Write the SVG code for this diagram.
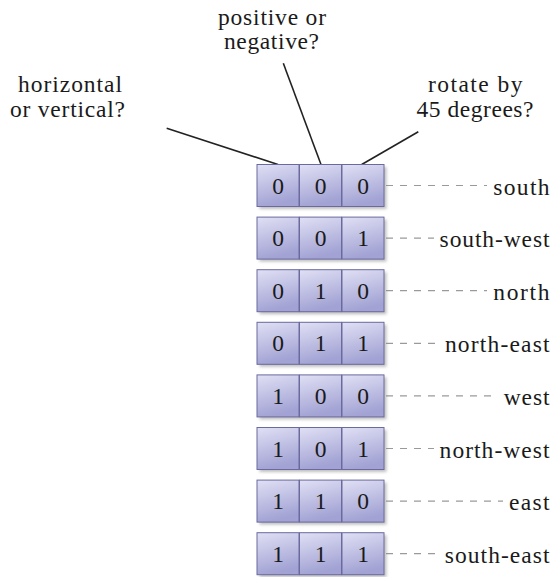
<svg xmlns="http://www.w3.org/2000/svg" width="551" height="577" viewBox="0 0 551 577" font-family="'Liberation Serif', 'DejaVu Serif', serif">
<defs>
<linearGradient id="cellfill" x1="0" y1="0" x2="0.25" y2="1">
<stop offset="0" stop-color="#e0e0f5"/>
<stop offset="1" stop-color="#a2a2d4"/>
</linearGradient>
<filter id="blur" x="-20%" y="-20%" width="140%" height="140%">
<feGaussianBlur stdDeviation="1.5"/>
</filter>
<g id="row">
<rect class="shadow" x="2.5" y="2.5" width="127" height="42" filter="url(#blur)"/>
<rect class="cell" x="0" y="0" width="42" height="42"/>
<rect class="cell" x="42.5" y="0" width="42" height="42"/>
<rect class="cell" x="85" y="0" width="42" height="42"/>
</g>
</defs>
<style>
.cell { fill: url(#cellfill); stroke: #6a6a9e; stroke-width: 1; }
.shadow { fill: #8a8a8a; opacity: 0.55; }
text { font-family: 'Liberation Serif', 'DejaVu Serif', serif; font-size: 23.5px; fill: #1a1a1a; }
.digit { text-anchor: middle; }
.lead { stroke: #222; stroke-width: 1.6; fill: none; }
.dash { stroke: #9a9a9a; stroke-width: 1.2; stroke-dasharray: 7 7; fill: none; }
</style>
<rect width="551" height="577" fill="#ffffff"/>

<g id="connectors">
<line class="lead" x1="166.7" y1="128.3" x2="278" y2="164.5"/>
<line class="lead" x1="283.3" y1="63.3" x2="321" y2="164.5"/>
<line class="lead" x1="418.3" y1="131.7" x2="361.7" y2="164.5"/>
<line class="dash" x1="386" y1="185.5" x2="487" y2="185.5"/>
<line class="dash" x1="386" y1="238.1" x2="434" y2="238.1"/>
<line class="dash" x1="386" y1="290.7" x2="487" y2="290.7"/>
<line class="dash" x1="386" y1="343.3" x2="439" y2="343.3"/>
<line class="dash" x1="386" y1="395.9" x2="498" y2="395.9"/>
<line class="dash" x1="386" y1="448.5" x2="434" y2="448.5"/>
<line class="dash" x1="386" y1="501.1" x2="503" y2="501.1"/>
<line class="dash" x1="386" y1="553.7" x2="439" y2="553.7"/>
</g>

<g id="q-horizontal">
<text x="18" y="92" textLength="104" lengthAdjust="spacing">horizontal</text>
<text x="10" y="117" textLength="115" lengthAdjust="spacing">or vertical?</text>
</g>
<g id="q-positive">
<text x="218" y="25" textLength="108" lengthAdjust="spacing">positive or</text>
<text x="224" y="49" textLength="95" lengthAdjust="spacing">negative?</text>
</g>
<g id="q-rotate">
<text x="428" y="92" textLength="94.5" lengthAdjust="spacing">rotate by</text>
<text x="416.5" y="117" textLength="117" lengthAdjust="spacing">45 degrees?</text>
</g>

<g id="row-000">
<use href="#row" x="257" y="164.5"/>
<text class="digit" x="278" y="193.5">0</text><text class="digit" x="320.5" y="193.5">0</text><text class="digit" x="363" y="193.5">0</text>
</g>
<g id="row-001">
<use href="#row" x="257" y="217.1"/>
<text class="digit" x="278" y="246.1">0</text><text class="digit" x="320.5" y="246.1">0</text><text class="digit" x="363" y="246.1">1</text>
</g>
<g id="row-010">
<use href="#row" x="257" y="269.7"/>
<text class="digit" x="278" y="298.7">0</text><text class="digit" x="320.5" y="298.7">1</text><text class="digit" x="363" y="298.7">0</text>
</g>
<g id="row-011">
<use href="#row" x="257" y="322.3"/>
<text class="digit" x="278" y="351.3">0</text><text class="digit" x="320.5" y="351.3">1</text><text class="digit" x="363" y="351.3">1</text>
</g>
<g id="row-100">
<use href="#row" x="257" y="374.9"/>
<text class="digit" x="278" y="403.9">1</text><text class="digit" x="320.5" y="403.9">0</text><text class="digit" x="363" y="403.9">0</text>
</g>
<g id="row-101">
<use href="#row" x="257" y="427.5"/>
<text class="digit" x="278" y="456.5">1</text><text class="digit" x="320.5" y="456.5">0</text><text class="digit" x="363" y="456.5">1</text>
</g>
<g id="row-110">
<use href="#row" x="257" y="480.1"/>
<text class="digit" x="278" y="509.1">1</text><text class="digit" x="320.5" y="509.1">1</text><text class="digit" x="363" y="509.1">0</text>
</g>
<g id="row-111">
<use href="#row" x="257" y="532.7"/>
<text class="digit" x="278" y="561.7">1</text><text class="digit" x="320.5" y="561.7">1</text><text class="digit" x="363" y="561.7">1</text>
</g>

<g id="label-south"><text x="493.2" y="194.5" textLength="56.3" lengthAdjust="spacing">south</text></g>
<g id="label-south-west"><text x="439.6" y="247.1" textLength="109.9" lengthAdjust="spacing">south-west</text></g>
<g id="label-north"><text x="493.3" y="299.7" textLength="56.2" lengthAdjust="spacing">north</text></g>
<g id="label-north-east"><text x="444.9" y="352.3" textLength="104.6" lengthAdjust="spacing">north-east</text></g>
<g id="label-west"><text x="503.7" y="404.9" textLength="45.8" lengthAdjust="spacing">west</text></g>
<g id="label-north-west"><text x="439.6" y="457.5" textLength="109.9" lengthAdjust="spacing">north-west</text></g>
<g id="label-east"><text x="508.9" y="510.1" textLength="40.6" lengthAdjust="spacing">east</text></g>
<g id="label-south-east"><text x="444.8" y="562.7" textLength="104.7" lengthAdjust="spacing">south-east</text></g>
</svg>
